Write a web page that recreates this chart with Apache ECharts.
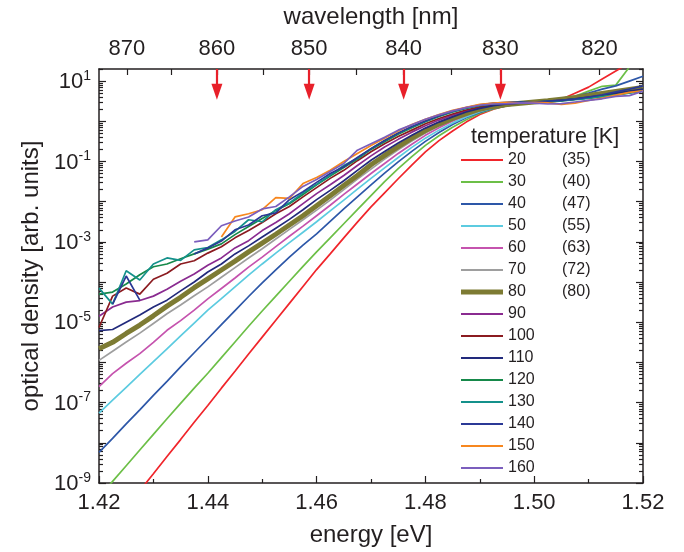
<!DOCTYPE html>
<html><head><meta charset="utf-8">
<script src="https://cdn.jsdelivr.net/npm/echarts@6/dist/echarts.min.js"></script>
<style>html,body{margin:0;padding:0;background:#fff}#c{width:684px;height:552px}</style>
</head><body><div id="c"></div>
<script>
// photon energy sample points [eV]
const energy = [1.42, 1.4225, 1.425, 1.4275, 1.43, 1.4325, 1.435, 1.4375, 1.44, 1.4425, 1.445, 1.4475, 1.45, 1.4525, 1.455, 1.4575, 1.46, 1.4625, 1.465, 1.4675, 1.47, 1.4725, 1.475, 1.4775, 1.48, 1.4825, 1.485, 1.4875, 1.49, 1.4925, 1.495, 1.4975, 1.50, 1.5025, 1.505, 1.5075, 1.51, 1.5125, 1.515, 1.5175, 1.52];
const temperatures = ['20','30','40','50','60','70','80','90','100','110','120','130','140','150','160'];
const effTemps = ['(35)','(40)','(47)','(55)','(63)','(72)','(80)','','','','','','','',''];
const colors = ['#f0252b','#6cbf47','#2d57a8','#5ccbe0','#c553ae','#9e9e9e','#7d7b33','#8a2b90','#8b1b20','#222a7c','#16894a','#14918b','#2b3996','#f7871f','#7b5ebd'];
// optical density, written as log10 values
const od20 = [null, null, -9.62, -9.19, -8.77, -8.34, -7.92, -7.49, -7.07, -6.64, -6.22, -5.79, -5.37, -4.95, -4.53, -4.11, -3.69, -3.30, -2.90, -2.51, -2.13, -1.78, -1.43, -1.09, -0.76, -0.48, -0.24, -0.02, 0.17, 0.30, 0.39, 0.43, 0.47, 0.50, 0.55, 0.70, 0.85, 1.05, 1.25, 1.45, 1.65];
const od30 = [-9.35, -8.96, -8.57, -8.18, -7.79, -7.40, -7.02, -6.64, -6.27, -5.88, -5.49, -5.10, -4.72, -4.35, -3.98, -3.61, -3.25, -2.90, -2.55, -2.20, -1.85, -1.50, -1.18, -0.88, -0.60, -0.36, -0.15, 0.04, 0.20, 0.31, 0.39, 0.43, 0.47, 0.50, 0.54, 0.62, 0.75, 0.87, 0.90, 1.35, 1.75];
const od40 = [-8.24, -7.89, -7.53, -7.18, -6.82, -6.47, -6.11, -5.76, -5.41, -5.06, -4.71, -4.36, -4.02, -3.70, -3.38, -3.08, -2.80, -2.49, -2.18, -1.88, -1.58, -1.29, -1.01, -0.75, -0.50, -0.28, -0.08, 0.09, 0.22, 0.32, 0.39, 0.43, 0.47, 0.50, 0.55, 0.62, 0.70, 0.80, 0.88, 1.00, 1.12];
const od50 = [-7.26, -6.94, -6.62, -6.30, -5.98, -5.66, -5.34, -5.02, -4.70, -4.41, -4.12, -3.83, -3.55, -3.28, -3.02, -2.76, -2.50, -2.23, -1.96, -1.69, -1.42, -1.16, -0.90, -0.65, -0.42, -0.22, -0.04, 0.11, 0.24, 0.33, 0.40, 0.44, 0.47, 0.50, 0.53, 0.57, 0.61, 0.65, 0.70, 0.75, 0.80];
const od60 = [-6.60, -6.28, -6.02, -5.78, -5.50, -5.20, -4.96, -4.70, -4.42, -4.16, -3.90, -3.63, -3.38, -3.12, -2.86, -2.61, -2.35, -2.09, -1.82, -1.56, -1.30, -1.05, -0.80, -0.57, -0.35, -0.16, 0.01, 0.15, 0.27, 0.35, 0.41, 0.44, 0.47, 0.50, 0.53, 0.57, 0.61, 0.66, 0.71, 0.76, 0.81];
const od70 = [-5.95, -5.72, -5.49, -5.27, -5.03, -4.79, -4.57, -4.34, -4.12, -3.88, -3.64, -3.40, -3.17, -2.93, -2.69, -2.45, -2.21, -1.96, -1.70, -1.44, -1.19, -0.94, -0.71, -0.49, -0.29, -0.11, 0.04, 0.17, 0.28, 0.36, 0.42, 0.45, 0.48, 0.51, 0.54, 0.58, 0.62, 0.67, 0.72, 0.77, 0.82];
const od80 = [-5.66, -5.50, -5.28, -5.07, -4.84, -4.60, -4.38, -4.14, -3.92, -3.70, -3.48, -3.25, -3.03, -2.81, -2.58, -2.35, -2.10, -1.85, -1.60, -1.35, -1.08, -0.85, -0.63, -0.42, -0.23, -0.07, 0.07, 0.19, 0.30, 0.37, 0.42, 0.45, 0.48, 0.51, 0.55, 0.59, 0.64, 0.69, 0.74, 0.79, 0.84];
const od90 = [-4.85, -4.62, -4.50, -4.46, -4.35, -4.18, -3.98, -3.80, -3.58, -3.40, -3.15, -2.97, -2.72, -2.52, -2.30, -2.05, -1.80, -1.58, -1.35, -1.10, -0.86, -0.64, -0.45, -0.27, -0.11, 0.03, 0.15, 0.26, 0.34, 0.40, 0.44, 0.46, 0.47, 0.50, 0.53, 0.55, 0.59, 0.63, 0.68, 0.73, 0.78];
const od100 = [-5.13, -4.35, -4.15, -4.30, -3.93, -3.78, -3.55, -3.47, -3.28, -3.12, -2.90, -2.72, -2.52, -2.30, -2.12, -1.88, -1.65, -1.42, -1.22, -0.98, -0.76, -0.56, -0.38, -0.22, -0.06, 0.07, 0.18, 0.28, 0.36, 0.41, 0.45, 0.46, 0.47, 0.49, 0.52, 0.55, 0.58, 0.62, 0.67, 0.72, 0.77];
const od110 = [-5.21, -5.18, -5.00, -4.82, -4.62, -4.45, -4.22, -4.00, -3.75, -3.55, -3.30, -3.10, -2.88, -2.66, -2.44, -2.20, -1.95, -1.72, -1.48, -1.22, -0.97, -0.75, -0.54, -0.35, -0.17, -0.02, 0.11, 0.23, 0.32, 0.39, 0.43, 0.45, 0.46, 0.49, 0.52, 0.56, 0.60, 0.64, 0.70, 0.75, 0.80];
const od120 = [-4.30, -4.25, -4.05, -3.82, -3.62, -3.55, -3.42, -3.30, -3.18, -3.05, -2.82, -2.62, -2.42, -2.22, -2.05, -1.82, -1.58, -1.36, -1.15, -0.94, -0.70, -0.51, -0.32, -0.16, -0.01, 0.12, 0.23, 0.32, 0.39, 0.44, 0.46, 0.47, 0.48, 0.50, 0.52, 0.55, 0.58, 0.62, 0.66, 0.71, 0.76];
const od130 = [-4.15, -4.55, -3.72, -3.95, -3.55, -3.40, -3.46, -3.20, -3.14, -2.95, -2.74, -2.45, -2.50, -2.20, -2.03, -1.78, -1.57, -1.34, -1.10, -0.92, -0.68, -0.48, -0.30, -0.14, 0.00, 0.13, 0.24, 0.33, 0.40, 0.44, 0.46, 0.47, 0.47, 0.49, 0.51, 0.54, 0.57, 0.61, 0.65, 0.70, 0.75];
const od140 = [null, -4.55, -3.85, -4.45, null, null, null, -3.30, -3.15, -2.98, -2.70, -2.58, -2.35, -2.28, -1.95, -1.75, -1.52, -1.30, -1.13, -0.90, -0.68, -0.48, -0.29, -0.13, 0.01, 0.14, 0.25, 0.34, 0.41, 0.45, 0.47, 0.48, 0.47, 0.50, 0.52, 0.55, 0.60, 0.66, 0.73, 0.80, 0.88];
const od150 = [null, null, null, null, null, null, null, null, null, -2.88, -2.38, -2.30, -2.20, -1.90, -1.92, -1.55, -1.40, -1.22, -1.00, -0.80, -0.60, -0.42, -0.24, -0.08, 0.05, 0.17, 0.27, 0.35, 0.42, 0.45, 0.47, 0.46, 0.47, 0.46, 0.42, 0.45, 0.52, 0.58, 0.65, 0.72, 0.76];
const od160 = [null, null, null, null, null, null, null, -3.00, -2.95, -2.60, -2.48, -2.38, -2.18, -2.12, -1.88, -1.62, -1.45, -1.25, -1.05, -0.72, -0.56, -0.40, -0.22, -0.09, 0.05, 0.16, 0.26, 0.34, 0.40, 0.43, 0.44, 0.46, 0.45, 0.43, 0.44, 0.48, 0.52, 0.56, 0.62, 0.64, 0.75];
const allOD = [od20, od30, od40, od50, od60, od70, od80, od90, od100, od110, od120, od130, od140, od150, od160];
// top axis: wavelength [nm]
const wlLabels = [870, 860, 850, 840, 830, 820];
const wlTicks = [870, 865, 860, 855, 850, 845, 840, 835, 830, 825, 820];
const arrowWavelengths = [860, 850, 840, 830];
const yLabelExponents = [-9, -7, -5, -3, -1, 1];

const HC = 1239.84; // eV nm
const FONT = '"Liberation Sans", Arial, Helvetica, sans-serif';
const INK = '#231f20';
const yMin = 1e-9, yMax = 20;

const decadeTicks = [];
for (let k = -9; k <= 1; k++) decadeTicks.push(Math.pow(10, k));
const minorTicks = [];
for (let k = -9; k <= 1; k++) for (let m = 2; m <= 9; m++) { const v = m * Math.pow(10, k); if (v <= yMax) minorTicks.push(v); }
const yLabelVals = yLabelExponents.map(e => Math.pow(10, e));

const axisLineStyle = { color: INK, width: 1.5 };

function yAxisBase(pos, ticks, len, withLine, withLabels) {
  return {
    type: 'log', logBase: 10, min: yMin, max: yMax, position: pos,
    axisLine: { show: withLine, lineStyle: axisLineStyle },
    axisTick: { show: true, inside: true, length: len, customValues: ticks, lineStyle: { color: INK, width: 1.2 } },
    axisLabel: withLabels ? {
      show: true, customValues: yLabelVals, margin: 8,
      formatter: v => '{b|10}{s|' + Math.round(Math.log10(v)) + '}',
      rich: {
        b: { fontSize: 22, fontFamily: FONT, color: INK, lineHeight: 24, verticalAlign: 'bottom' },
        s: { fontSize: 14, fontFamily: FONT, color: INK, lineHeight: 24, verticalAlign: 'top', padding: [0, 0, 10, 0] }
      }
    } : { show: false },
    splitLine: { show: false }, minorTick: { show: false }, minorSplitLine: { show: false }
  };
}

const series = temperatures.map((t, i) => ({
  name: t, type: 'line', symbol: 'none', showSymbol: false, smooth: false, clip: true,
  lineStyle: { color: colors[i], width: t === '80' ? 5 : 1.7 },
  itemStyle: { color: colors[i] },
  emphasis: { disabled: true },
  data: energy.map((e, k) => allOD[i][k] === null ? [e, '-'] : [e, Math.pow(10, allOD[i][k])])
}));
series[0].markLine = {
  silent: true, animation: false,
  symbol: ['none', 'triangle'], symbolSize: [11, 16],
  label: { show: false },
  lineStyle: { color: '#e8202a', width: 2.2, type: 'solid' },
  emphasis: { disabled: true },
  data: arrowWavelengths.map(w => [{ coord: [HC / w, yMax] }, { coord: [HC / w, 5.4] }])
};

const option = {
  animation: false,
  backgroundColor: '#fff',
  textStyle: { fontFamily: FONT, color: INK },
  title: { text: 'temperature [K]', left: 471, top: 126, padding: 0,
    textStyle: { fontSize: 21.5, fontWeight: 'normal', fontFamily: FONT, color: INK } },
  legend: {
    data: temperatures.map(t => ({
      name: t,
      icon: t === '80' ? 'path://M0,0H42V5H0Z' : 'path://M0,0H42V2H0Z'
    })),
    orient: 'vertical', left: 461, top: 152, padding: 0,
    itemWidth: 42, itemHeight: 16, itemGap: 6, selectedMode: false,
    formatter: name => {
      const i = temperatures.indexOf(name);
      return '{n|' + name + '}{t|' + effTemps[i] + '}';
    },
    textStyle: {
      fontFamily: FONT, color: INK, fontSize: 16, lineHeight: 16,
      rich: { n: { width: 54, fontSize: 16, fontFamily: FONT, color: INK, lineHeight: 16 },
              t: { fontSize: 16, fontFamily: FONT, color: INK, lineHeight: 16 } }
    }
  },
  grid: { left: 99, right: 41, top: 66, bottom: 69, containLabel: false },
  xAxis: [
    {
      type: 'value', min: 1.42, max: 1.52, interval: 0.02, position: 'bottom',
      name: 'energy [eV]', nameLocation: 'middle', nameGap: 40,
      nameTextStyle: { fontSize: 24, fontFamily: FONT, color: INK },
      axisLine: { show: true, onZero: false, lineStyle: axisLineStyle },
      axisTick: { show: true, inside: true, length: 7, lineStyle: { color: INK, width: 1.2 } },
      minorTick: { show: true, splitNumber: 2, length: 4, lineStyle: { color: INK, width: 1.2 } },
      axisLabel: { fontSize: 22, fontFamily: FONT, color: INK, margin: 9, formatter: v => v.toFixed(2) },
      splitLine: { show: false }
    },
    {
      type: 'value', min: 1.42, max: 1.52, position: 'top',
      name: 'wavelength [nm]', nameLocation: 'middle', nameGap: 40,
      nameTextStyle: { fontSize: 24, fontFamily: FONT, color: INK },
      axisLine: { show: true, onZero: false, lineStyle: axisLineStyle },
      axisTick: { show: true, inside: true, length: 6, customValues: wlTicks.map(w => HC / w), lineStyle: { color: INK, width: 1.2 } },
      axisLabel: { fontSize: 22, fontFamily: FONT, color: INK, margin: 9, customValues: wlLabels.map(w => HC / w),
        formatter: v => String(Math.round(HC / v)) },
      splitLine: { show: false }
    }
  ],
  yAxis: [
    Object.assign(yAxisBase('left', decadeTicks, 7, true, true), {
      name: 'optical density [arb. units]', nameLocation: 'middle', nameGap: 56,
      nameTextStyle: { fontSize: 24, fontFamily: FONT, color: INK }
    }),
    yAxisBase('right', decadeTicks, 7, true, false),
    yAxisBase('left', minorTicks, 4, false, false),
    yAxisBase('right', minorTicks, 4, false, false)
  ],
  series: series
};

const chart = echarts.init(document.getElementById('c'), null, { renderer: 'canvas' });
chart.setOption(option);
</script>
</body></html>
